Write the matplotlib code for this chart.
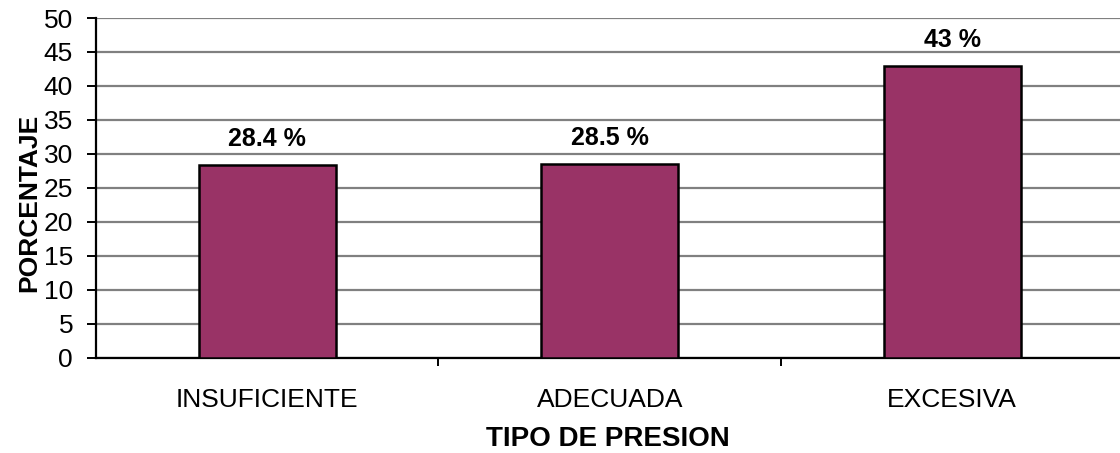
import matplotlib.pyplot as plt

plt.rcParams['font.family'] = ['Liberation Sans', 'DejaVu Sans']

categorias = ['INSUFICIENTE', 'ADECUADA', 'EXCESIVA']
porcentajes = [28.4, 28.5, 43]
etiquetas = ['28.4 %', '28.5 %', '43 %']
yticks = list(range(0, 55, 5))

fig = plt.figure(figsize=(11.2, 4.53), dpi=100)
ax = fig.add_axes([96 / 1120, 1 - 357.5 / 453, (1120 - 96) / 1120, (357.5 - 18) / 453])

x = range(len(categorias))
bars = ax.bar(x, porcentajes, width=0.40, color='#993366', edgecolor='black', linewidth=1.8, zorder=3)

for b, txt in zip(bars, etiquetas):
    ax.annotate(txt, (b.get_x() + b.get_width() / 2, b.get_height()),
                xytext=(0, 18.5), textcoords='offset points', ha='center', va='center',
                fontsize=18, fontweight='bold')

ax.set_ylim(0, 50)
ax.set_yticks(yticks)
ax.set_xlim(-0.5, 2.49)
ax.yaxis.grid(True, color='#808080', linewidth=1.6, zorder=0)

# category labels centred, separator ticks between categories
ax.set_xticks([0.5, 1.5], minor=False)
ax.set_xticklabels([])
ax.tick_params(axis='x', length=6, width=1.4)
ax.set_xticks(list(x), minor=True)
ax.set_xticklabels(categorias, minor=True, fontsize=19)
ax.tick_params(axis='x', which='minor', length=0, pad=22)
ax.tick_params(axis='y', length=6.5, width=1.4, labelsize=19, pad=10)

ax.set_xlabel('TIPO DE PRESION', fontsize=20, fontweight='bold', labelpad=10)
ax.set_ylabel('PORCENTAJE', fontsize=19, fontweight='bold', labelpad=2, y=0.455)

for side in ['top', 'right']:
    ax.spines[side].set_visible(False)
for side in ['left', 'bottom']:
    ax.spines[side].set_linewidth(1.6)

fig.savefig('out.png', dpi=100)
